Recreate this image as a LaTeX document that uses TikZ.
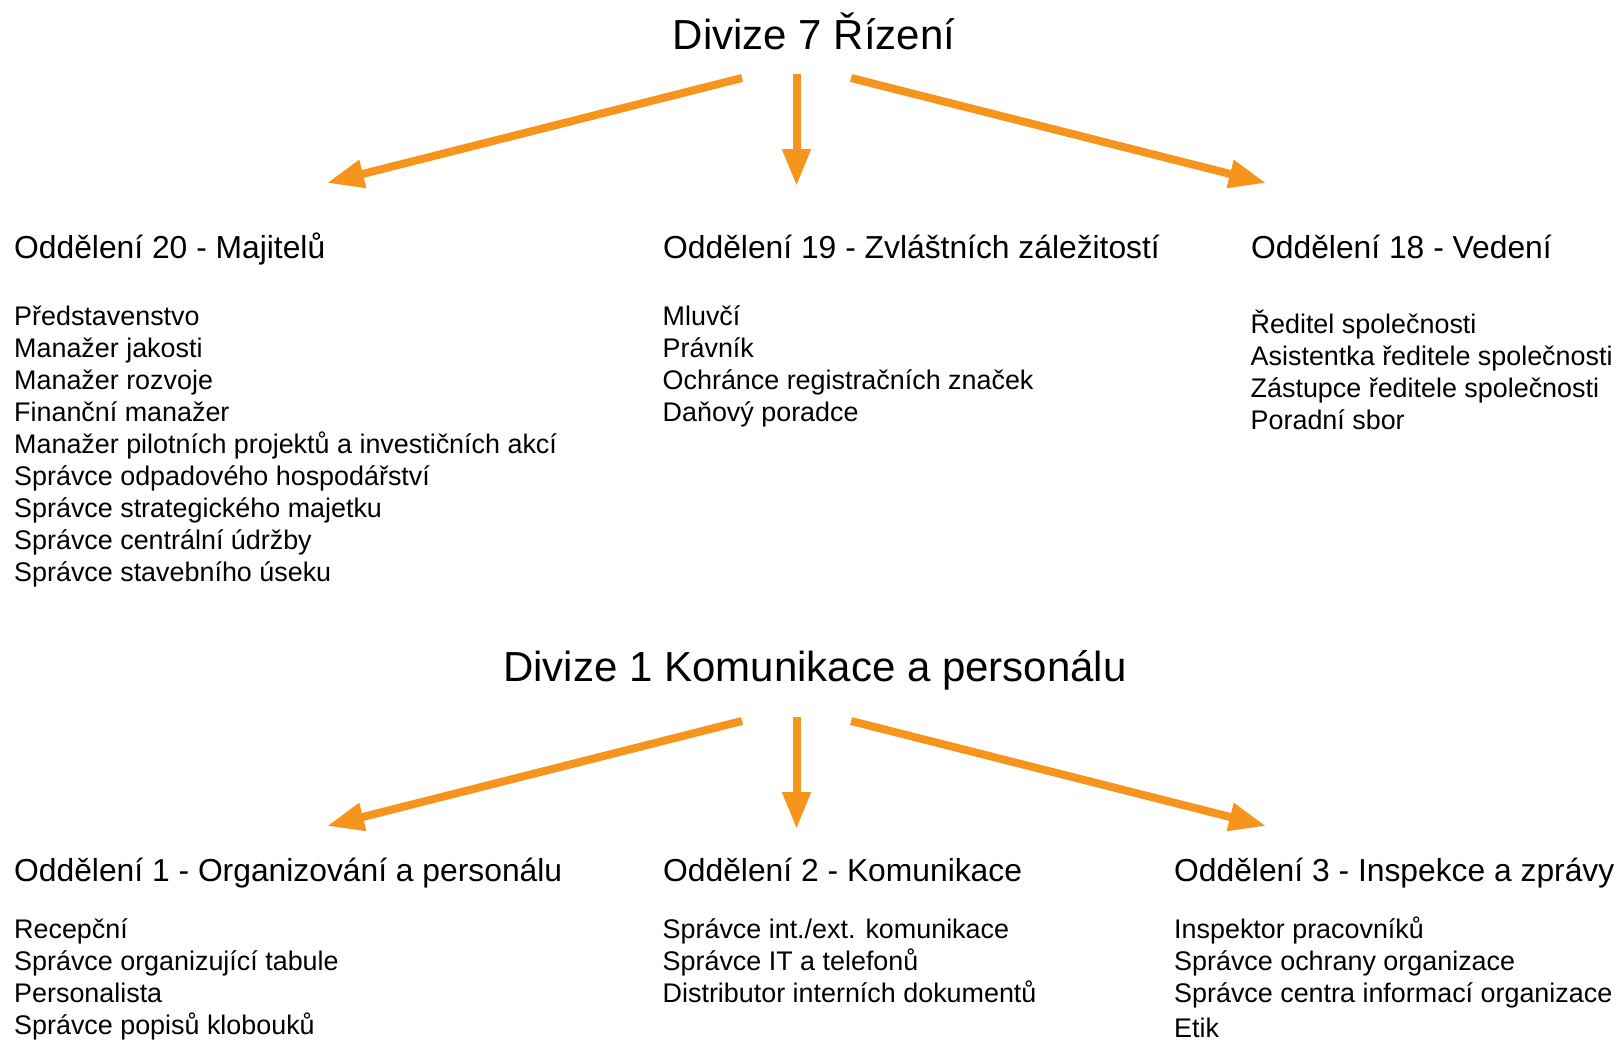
\documentclass[tikz,border=0pt]{standalone}
\usepackage{fontspec}
\setmainfont{Liberation Sans}
\usetikzlibrary{arrows.meta}
\definecolor{arr}{RGB}{247,148,30}
\begin{document}
\begin{tikzpicture}[x=1pt,y=-1pt,
  titletext/.style={anchor=base, inner sep=0pt, font=\fontsize{42}{42}\selectfont},
  headtext/.style={anchor=base west, inner sep=0pt, font=\fontsize{31.8}{31.8}\selectfont},
  itemtext/.style={anchor=base west, inner sep=0pt, font=\fontsize{26.9}{26.9}\selectfont},
  conn/.style={draw=arr, line width=8pt, line cap=butt, -{Triangle[length=37pt,width=27pt]}}]
\useasboundingbox (0,0) rectangle (1617,1041);

% ---------- Division 7 ----------
\node[titletext] (t1) at (814,50) {Divize 7 Řízení};
\coordinate (t1l) at (742,78);
\coordinate (t1m) at (796.5,74);
\coordinate (t1r) at (851,78);
\coordinate (e1l) at (327,183);
\coordinate (e1m) at (796.5,186);
\coordinate (e1r) at (1266,183);
\draw[conn] (t1l) -- (e1l);
\draw[conn] (t1m) -- (e1m);
\draw[conn] (t1r) -- (e1r);

\node[headtext] (h20) at (14,258) {Oddělení 20 - Majitelů};
\node[headtext] (h19) at (663,258) {Oddělení 19 - Zvláštních záležitostí};
\node[headtext] (h18) at (1251,258) {Oddělení 18 - Vedení};

\foreach \t [count=\i] in {Představenstvo,Manažer jakosti,Manažer rozvoje,Finanční manažer,Manažer pilotních projektů a investičních akcí,Správce odpadového hospodářství,Správce strategického majetku,Správce centrální údržby,Správce stavebního úseku}
  \node[itemtext] (a\i) at (14,{325+32*(\i-1)}) {\t};

\foreach \t [count=\i] in {Mluvčí,Právník,Ochránce registračních značek,Daňový poradce}
  \node[itemtext] (b\i) at (662.5,{325+32*(\i-1)}) {\t};

\foreach \t [count=\i] in {Ředitel společnosti,Asistentka ředitele společnosti,Zástupce ředitele společnosti,Poradní sbor}
  \node[itemtext] (c\i) at (1250.5,{333+32*(\i-1)}) {\t};

% ---------- Division 1 ----------
\node[titletext] (t2) at (815,681) {Divize 1 Komunikace a personálu};
\coordinate (t2l) at (742,721);
\coordinate (t2m) at (796.5,717);
\coordinate (t2r) at (851,721);
\coordinate (e2l) at (327,826);
\coordinate (e2m) at (796.5,829);
\coordinate (e2r) at (1266,826);
\draw[conn] (t2l) -- (e2l);
\draw[conn] (t2m) -- (e2m);
\draw[conn] (t2r) -- (e2r);

\node[headtext] (h1) at (14,881) {Oddělení 1 - Organizování a personálu};
\node[headtext] (h2) at (663,881) {Oddělení 2 - Komunikace};
\node[headtext] (h3) at (1174,881) {Oddělení 3 - Inspekce a zprávy};

\foreach \t [count=\i] in {Recepční,Správce organizující tabule,Personalista,Správce popisů klobouků}
  \node[itemtext] (d\i) at (14,{938+32*(\i-1)}) {\t};

\foreach \t [count=\i] in {Správce int./ext. komunikace,Správce IT a telefonů,Distributor interních dokumentů}
  \node[itemtext] (e\i) at (662.5,{938+32*(\i-1)}) {\t};

\foreach \t [count=\i] in {Inspektor pracovníků,Správce ochrany organizace,Správce centra informací organizace}
  \node[itemtext] (f\i) at (1174,{938+32*(\i-1)}) {\t};
\node[itemtext] (f4) at (1174,1037) {Etik};
\end{tikzpicture}
\end{document}
